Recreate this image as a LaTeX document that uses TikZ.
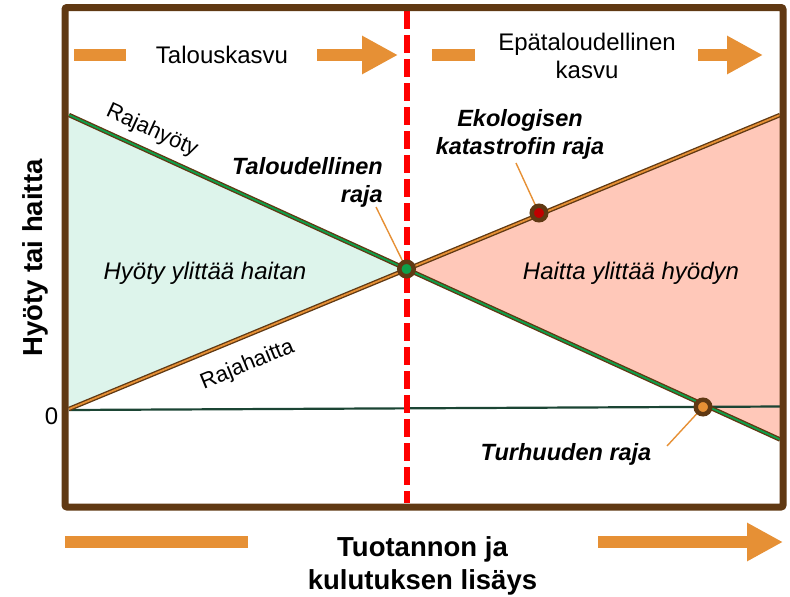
\documentclass[tikz,border=0pt]{standalone}
\usepackage{fontspec}
\setmainfont{Liberation Sans}
\usetikzlibrary{arrows.meta}
\definecolor{kehys}{HTML}{603913}
\definecolor{oranssi}{HTML}{E69035}
\definecolor{vihrea}{HTML}{0DA04A}
\definecolor{minttu}{HTML}{DDF4EB}
\definecolor{lohi}{HTML}{FFC8B9}
\definecolor{nolla}{HTML}{1B4534}
\definecolor{punainen}{HTML}{FF0000}
\definecolor{tummanpunainen}{HTML}{C00000}
\tikzset{
  palkki/.style={draw=oranssi, line width=12pt},
  nuoli/.style={palkki, -{Triangle[width=36pt,length=36pt]}},
  kayra/.style={draw=kehys, line width=4.5pt},
  raita/.style={line width=1.8pt, yshift=0.6pt},
  vihje/.style={draw=oranssi, line width=1.4pt},
  rajapiste/.style={
    circle,
    draw=kehys, line width=4.5pt,
    minimum size=14.5pt,
    inner sep=0pt},
  teksti/.style={inner sep=0pt, font=\fontsize{24}{28}\selectfont},
  raja/.style={teksti, font=\fontsize{23.5}{28}\bfseries\itshape\selectfont},
  akseli/.style={inner sep=0pt, font=\fontsize{27.5}{33}\bfseries\selectfont},
}
\begin{document}
\begin{tikzpicture}[x=1pt, y=-1pt]
     \useasboundingbox (0,0) rectangle (790,597);
     % kayrien pisteet
     \coordinate (hyotyA)  at (69,115);
     \coordinate (hyotyB)  at (780,439.5);
     \coordinate (haittaA) at (69,409);
     \coordinate (haittaB) at (780,115);
     \coordinate (talPiste) at (406.5,269);
     \coordinate (ekoPiste) at (539,213);
     \coordinate (turPiste) at (703,407);
     % alueet
     \fill[minttu] (hyotyA) -- (talPiste) -- (haittaA) -- cycle;
     \fill[lohi] (talPiste) -- (haittaB) -- (hyotyB) -- cycle;
     \draw[nolla, line width=2.2pt] (69,410) -- (780,406.5);
     \draw[kayra] (hyotyA) -- (hyotyB);
     \draw[raita, vihrea] (hyotyA) -- (hyotyB);
     \draw[kayra] (haittaA) -- (haittaB);
     \draw[raita, oranssi] (haittaA) -- (haittaB);
     \draw[punainen, line width=6pt, dash pattern=on 18pt off 6pt] (406.5,11) -- (406.5,503);
     \draw[kehys, line width=7pt, rounded corners=2pt] (65,7.5) rectangle (783,507);
     % nuolet
     \draw[palkki] (74,55) -- (126,55);
     \draw[nuoli] (317,55) -- (398,55);
     \draw[palkki] (432,55) -- (475,55);
     \draw[nuoli] (698,55) -- (763,55);
     \draw[palkki] (65,542) -- (248,542);
     \draw[nuoli] (598,542) -- (783,542);
     % vihjeviivat
     \coordinate (talVihje) at (376,207);
     \coordinate (ekoVihje) at (516,163);
     \coordinate (turVihje) at (667,446);
     \draw[vihje] (talVihje) -- (talPiste);
     \draw[vihje] (ekoVihje) -- (ekoPiste);
     \draw[vihje] (turVihje) -- (turPiste);
     \node[rajapiste, fill=vihrea] (taloudellinen) at (talPiste) {};
     \node[rajapiste, fill=tummanpunainen] (ekologinen) at (ekoPiste) {};
     \node[rajapiste, fill=oranssi] (turhuus) at (turPiste) {};
     % tekstit
     \node[teksti, anchor=base] (talouskasvu) at (222,63) {Talouskasvu};
     \node[teksti, anchor=north, align=center] (epatal) at (587,32.5) {Epätaloudellinen\\kasvu};
     \node[raja, anchor=north east, align=right] (talRaja) at (383,157) {Taloudellinen\\raja};
     \node[raja, anchor=north, align=center] (ekoRaja) at (520,109) {Ekologisen\\katastrofin raja};
     \node[raja, anchor=base] (turRaja) at (566,460.5) {Turhuuden raja};
     \node[teksti, font=\fontsize{22}{26}\selectfont, rotate=-24.6] (rajahyoty) at (152,131) {Rajahyöty};
     \node[teksti, font=\fontsize{22}{26}\selectfont, rotate=22.3] (rajahaitta) at (247.5,365) {Rajahaitta};
     \node[teksti, font=\fontsize{24}{28}\itshape\selectfont, anchor=base] (hyotyYli) at (205,279) {Hyöty ylittää haitan};
     \node[teksti, font=\fontsize{24}{28}\itshape\selectfont, anchor=base] (haittaYli) at (631,279) {Haitta ylittää hyödyn};
     \node[teksti, anchor=base] (nollaTaso) at (51.5,424) {0};
     \node[akseli, rotate=90] (yAkseli) at (35,258) {Hyöty tai haitta};
     \node[akseli, align=center] (xAkseli) at (422.5,566) {Tuotannon ja\\kulutuksen lisäys};
\end{tikzpicture}
\end{document}
